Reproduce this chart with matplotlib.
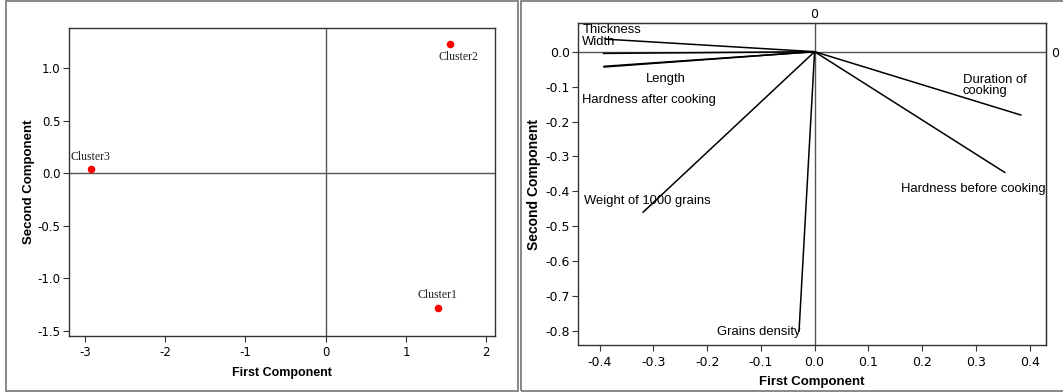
import matplotlib
matplotlib.use("Agg")
import matplotlib.pyplot as plt
from matplotlib.patches import Rectangle

# ---------------- data ----------------
# Left: cluster scores
cluster_names = ["Cluster1", "Cluster2", "Cluster3"]
cluster_x = [1.40, 1.546, -2.93]
cluster_y = [-1.283, 1.234, 0.038]

# Right: variable loadings
var_names = ["Thickness", "Width", "Length", "Hardness after cooking",
             "Weight of 1000 grains", "Grains density",
             "Hardness before cooking", "Duration of cooking"]
load_x = [-0.390, -0.394, -0.393, -0.393, -0.320, -0.029, 0.355, 0.385]
load_y = [0.036, -0.005, -0.042, -0.044, -0.461, -0.802, -0.347, -0.182]

left_xticks = [-3, -2, -1, 0, 1, 2]
left_yticks = [-1.5, -1.0, -0.5, 0.0, 0.5, 1.0]
right_xticks = [-0.4, -0.3, -0.2, -0.1, 0.0, 0.1, 0.2, 0.3, 0.4]
right_yticks = [-0.8, -0.7, -0.6, -0.5, -0.4, -0.3, -0.2, -0.1, 0.0]

W, H = 1063, 392
fig = plt.figure(figsize=(W / 100, H / 100), dpi=100)
fig.patch.set_facecolor("white")

def fx(px):
    return px / W

def fy(py):
    return 1 - py / H

# panel frames
fig.patches.append(Rectangle((fx(6), fy(390.5)), fx(517.5) - fx(6), fy(1) - fy(390.5),
                             transform=fig.transFigure, fill=False,
                             edgecolor="#7f7f7f", linewidth=1.3))
fig.patches.append(Rectangle((fx(520.5), fy(390.5)), fx(1070) - fx(520.5), fy(1) - fy(390.5),
                             transform=fig.transFigure, fill=False,
                             edgecolor="#7f7f7f", linewidth=1.3))

def style(ax, size):
    for s in ax.spines.values():
        s.set_linewidth(1.0)
        s.set_color("#333333")
    ax.tick_params(direction="out", length=4, width=0.8, colors="#333333",
                   labelcolor="black", labelsize=size, pad=2)
    for lbl in ax.get_xticklabels() + ax.get_yticklabels():
        lbl.set_fontfamily("DejaVu Sans")

# ---------------- left panel ----------------
ax1 = fig.add_axes([fx(69), fy(336), fx(495) - fx(69), fy(28) - fy(336)])
ax1.set_xlim(-3.2, 2.11)
ax1.set_ylim(-1.55, 1.384)
ax1.axhline(0, color="#555555", lw=1.0, zorder=1)
ax1.axvline(0, color="#555555", lw=1.0, zorder=1)
ax1.scatter(cluster_x, cluster_y, s=30, color="#ff0000", zorder=3, linewidths=0)
offsets = {"Cluster1": (-0.5, 9), "Cluster2": (6.5, -9.5), "Cluster3": (-0.5, 9)}
for n, x, y in zip(cluster_names, cluster_x, cluster_y):
    dx, dy = offsets[n]
    ax1.annotate(n, (x, y), xytext=(dx, dy), textcoords="offset points",
                 ha="center", va="center", family="Liberation Serif",
                 fontsize=8.5, color="#222222")
ax1.set_xticks(left_xticks)
ax1.set_xticklabels([str(t) for t in left_xticks])
ax1.set_yticks(left_yticks)
ax1.set_yticklabels([f"{t:.1f}" for t in left_yticks])
style(ax1, 8.5)
ax1.tick_params(axis="x", pad=3)
ax1.set_xlabel("First Component", fontsize=9, fontweight="bold",
               family="Liberation Sans", labelpad=6)
ax1.set_ylabel("Second Component", fontsize=9.5, fontweight="bold",
               family="Liberation Sans", labelpad=2)

# ---------------- right panel ----------------
ax2 = fig.add_axes([fx(578.3), fy(345), fx(1046) - fx(578.3), fy(23.3) - fy(345)])
ax2.set_xlim(-0.4396, 0.4305)
ax2.set_ylim(-0.840, 0.0813)
ax2.axhline(0, color="#555555", lw=1.0, zorder=1)
ax2.axvline(0, color="#555555", lw=1.0, zorder=1)
for x, y in zip(load_x, load_y):
    ax2.plot([0, x], [0, y], color="black", lw=1.1, solid_capstyle="butt")

lab_pos = {
    "Thickness": (-0.432, 0.0635, "left"),
    "Width": (-0.432, 0.0285, "left"),
    "Length": (-0.277, -0.078, "center"),
    "Hardness after cooking": (-0.433, -0.138, "left"),
    "Weight of 1000 grains": (-0.429, -0.428, "left"),
    "Grains density": (-0.182, -0.802, "left"),
    "Hardness before cooking": (0.1602, -0.393, "left"),
    "Duration of cooking": (0.276, -0.097, "left"),
}
for n in var_names:
    x, y, ha = lab_pos[n]
    txt = "Duration of\ncooking" if n == "Duration of cooking" else n
    ax2.text(x, y, txt, ha=ha, va="center", family="Liberation Sans",
             fontsize=9.4, color="black", linespacing=0.8)

ax2.set_xticks(right_xticks)
ax2.set_xticklabels([f"{t:.1f}" for t in right_xticks])
ax2.set_yticks(right_yticks)
ax2.set_yticklabels([f"{t:.1f}" for t in right_yticks])
style(ax2, 9)
ax2.tick_params(axis="x", pad=4)
ax2.set_xlabel("First Component", fontsize=9.5, fontweight="bold",
               family="Liberation Sans", labelpad=5)
ax2.set_ylabel("Second Component", fontsize=10, fontweight="bold",
               family="Liberation Sans", labelpad=3)

# secondary axes showing the 0 reference
sx = ax2.secondary_xaxis("top")
sx.set_xticks([0])
sx.set_xticklabels(["0"])
sx.tick_params(length=0, labelsize=9, pad=1.5)
sy = ax2.secondary_yaxis("right")
sy.set_yticks([0])
sy.set_yticklabels(["0"])
sy.tick_params(length=0, labelsize=9, pad=4)

fig.savefig("out.png", dpi=100, facecolor="white")
